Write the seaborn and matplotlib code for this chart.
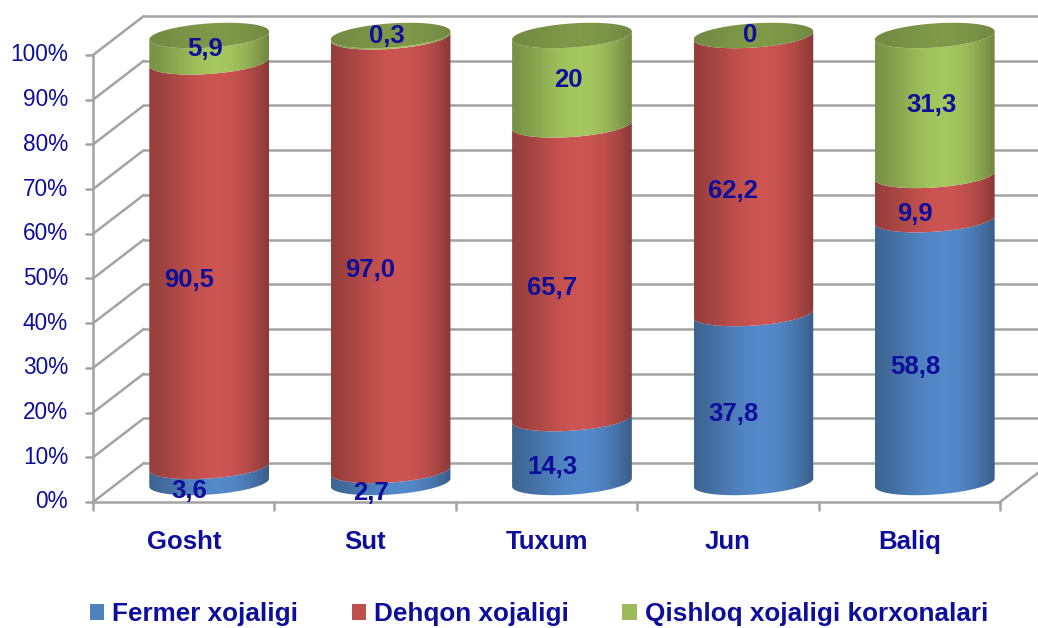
import numpy as np
import pandas as pd
import matplotlib
matplotlib.use("Agg")
import matplotlib.pyplot as plt
from matplotlib.patches import Polygon, Patch
import seaborn as sns

# chart data (values written as on the chart, comma decimals)
categories = ["Gosht", "Sut", "Tuxum", "Jun", "Baliq"]
series_names = ["Fermer xojaligi", "Dehqon xojaligi", "Qishloq xojaligi korxonalari"]
fermer = ["3,6", "2,7", "14,3", "37,8", "58,8"]
dehqon = ["90,5", "97,0", "65,7", "62,2", "9,9"]
qishloq = ["5,9", "0,3", "20", "0", "31,3"]
y_ticks = [0, 10, 20, 30, 40, 50, 60, 70, 80, 90, 100]

colors = ["#4F81BD", "#C0504D", "#9BBB59"]
text_color = "#0E0E9C"
grid_color = "#A3A3A3"

# fake 3d geometry (data units)
DX, DY = 0.14, 4.36      # half depth of the box
RY, SHEAR = 2.7, 0.9     # ellipse height and tilt of the cylinder rings
BAR_W = 0.66


def to_num(labels):
    return [float(s.replace(",", ".")) for s in labels]


def ring(cx, rx, y, t):
    return cx + rx * np.cos(t), y + RY * np.sin(t) + SHEAR * np.cos(t)


def shade(u):
    # dark edges, highlight a bit right of centre
    return 0.78 + 0.32 * np.sin(np.pi * u ** 1.3) - 0.06 * u


def gradient_fill(ax, verts, base, cx, rx, y0, y1, z, dark=1.0, soft=False):
    poly = Polygon(verts, closed=True, transform=ax.transData, facecolor="none", edgecolor="none")
    u = np.linspace(0, 1, 256)
    f = shade(u)
    if soft:
        f = 1 + (f - 1) * 0.35
    rgb = np.clip(np.array(matplotlib.colors.to_rgb(base))[None, :] * f[:, None] * dark, 0, 1)
    im = ax.imshow(rgb[None, :, :], extent=[cx - rx, cx + rx, y0, y1], aspect="auto",
                   interpolation="bilinear", zorder=z)
    im.set_clip_path(poly)


sns.set_style("white")
plt.rcParams["font.family"] = ["Liberation Sans", "DejaVu Sans"]

fig = plt.figure(figsize=(10.38, 6.28), dpi=100)
ax = fig.add_axes([0, 0, 1, 1])

values = [to_num(fermer), to_num(dehqon), to_num(qishloq)]
labels = [fermer, dehqon, qishloq]

# seaborn places the stacked bars; the flat rectangles are then turned into cylinders
tops = np.cumsum(np.array(values), axis=0)
bars = []
for k in range(3):
    n0 = len(ax.patches)
    df = pd.DataFrame({"cat": categories, "top": tops[k]})
    sns.barplot(data=df, x="cat", y="top", width=BAR_W, color=colors[k], errorbar=None, ax=ax)
    bars.append(ax.patches[n0:])

# box: back wall grid, left wall, floor
left_f, right_f = -0.5 - DX, len(categories) - 0.5 - DX
left_b, right_b = -0.5 + DX, len(categories) - 0.5 + DX
lw = 1.8
for t in y_ticks:
    ax.plot([left_b, right_b], [t + DY, t + DY], color=grid_color, lw=lw, zorder=1)
    ax.plot([left_f, left_b], [t - DY, t + DY], color=grid_color, lw=lw, zorder=1)
    ax.plot([left_f - 0.04, left_f], [t - DY, t - DY], color=grid_color, lw=lw, zorder=1)
    ax.text(-0.778, t - DY, f"{t}%", ha="right", va="center", fontsize=16.3, color=text_color)
ax.plot([left_f, left_f], [-DY, 100 - DY], color=grid_color, lw=lw, zorder=1)
ax.plot([left_f, right_f], [-DY, -DY], color=grid_color, lw=lw, zorder=1)
ax.plot([right_f, right_b], [-DY, DY], color=grid_color, lw=lw, zorder=1)
for k in range(len(categories) + 1):
    xb = k - 0.5 - DX
    ax.plot([xb, xb], [-DY, -DY - 1.8], color=grid_color, lw=lw, zorder=1)

for i, cat in enumerate(categories):
    ax.text(i - DX, -13.3, cat, ha="center", va="center", fontsize=18.5,
            fontweight="bold", color=text_color)

# cylinders
arc = np.linspace(np.pi, 2 * np.pi, 80)
full = np.linspace(0, 2 * np.pi, 160)
for k in range(3):
    for i, p in enumerate(bars[k]):
        p.set_visible(False)
        cx = p.get_x() + p.get_width() / 2
        rx = p.get_width() / 2
        b = p.get_height()
        a = tops[k - 1][i] if k > 0 else 0.0
        if b - a <= 0:
            continue
        xa, ya = ring(cx, rx, a, arc)
        xb, yb = ring(cx, rx, b, arc[::-1])
        verts = np.column_stack([np.r_[xa, xb], np.r_[ya, yb]])
        gradient_fill(ax, verts, colors[k], cx, rx, a - RY - SHEAR - 1, b + RY + SHEAR + 1, 3 + k)

# top caps (colour of the top series)
for i, p in enumerate(bars[2]):
    cx = p.get_x() + p.get_width() / 2
    rx = p.get_width() / 2
    xt, yt = ring(cx, rx, 100, full)
    verts = np.column_stack([xt, yt])
    gradient_fill(ax, verts, colors[2], cx, rx, 100 - RY - SHEAR - 1, 100 + RY + SHEAR + 1, 6,
                  dark=0.8, soft=True)

# data labels
offsets = [(-0.11, -3.6), (-0.11, -3.6), (-0.02, 0.0)]
for k in range(3):
    for i in range(len(categories)):
        a = tops[k - 1][i] if k > 0 else 0.0
        b = tops[k][i]
        cx = bars[k][i].get_x() + bars[k][i].get_width() / 2
        ax.text(cx + offsets[k][0], (a + b) / 2 + offsets[k][1], labels[k][i],
                ha="center", va="center", fontsize=18.5, fontweight="bold",
                color=text_color, zorder=10)

ax.set_xlim(-1.153, 4.569)
ax.set_ylim(-32.55, 107.94)
ax.set_axis_off()

handles = [Patch(facecolor=c, edgecolor="none") for c in colors]
fig.legend(handles, series_names, loc="center left", bbox_to_anchor=(90 / 1038, 1 - 614 / 628),
           ncol=3, frameon=False, handlelength=0.55, handleheight=0.58, handletextpad=0.3,
           columnspacing=2.05, borderpad=0, borderaxespad=0, labelcolor=text_color,
           prop=dict(family=["Liberation Sans", "DejaVu Sans"], weight="bold", size=18.8))

fig.savefig("out.png", dpi=100)
